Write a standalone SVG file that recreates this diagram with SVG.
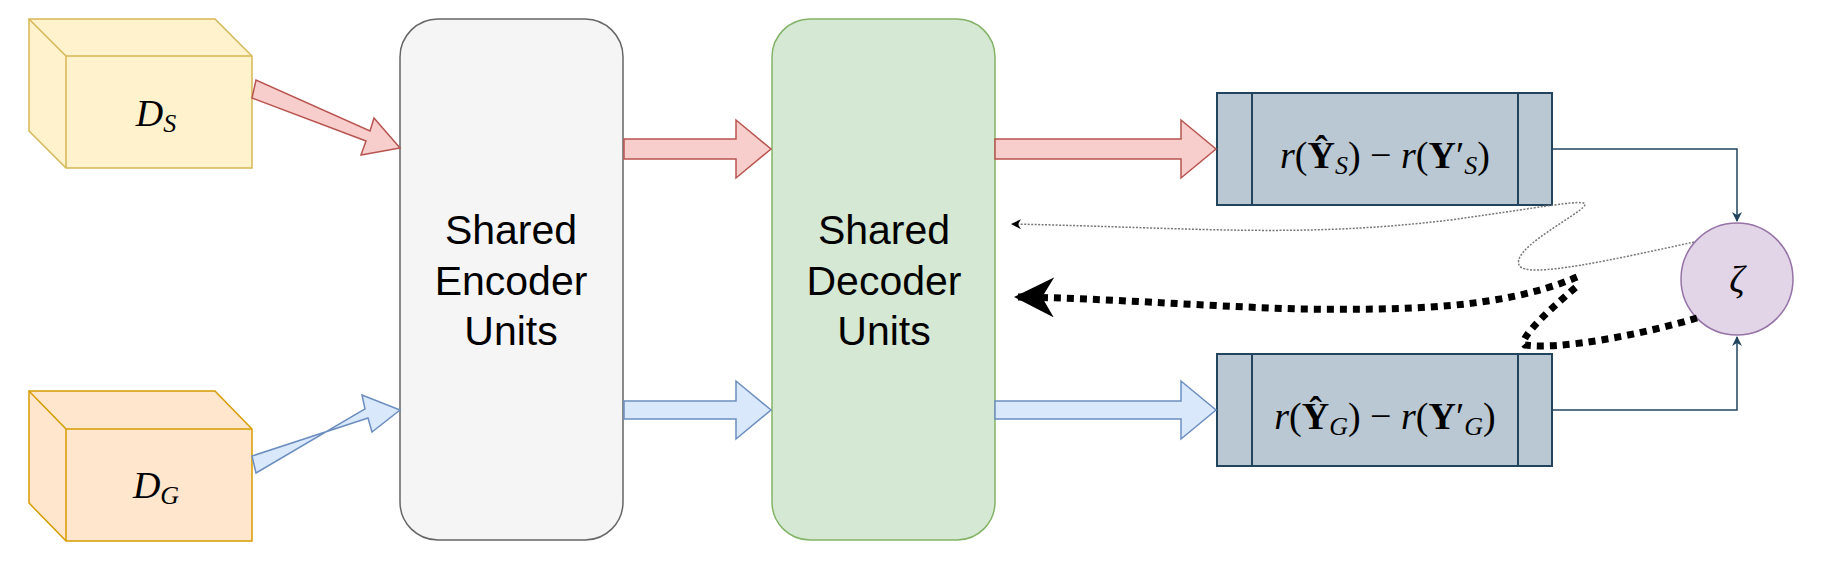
<svg xmlns="http://www.w3.org/2000/svg" width="1822" height="582" viewBox="0 0 1822 582">
<defs>
<style>
.lbl{font-family:"Liberation Sans",Arial,sans-serif;font-size:41px;fill:#000;text-anchor:middle}
.math{font-family:"Liberation Serif","Times New Roman",serif;font-size:38px;fill:#000;text-anchor:middle}
.red{fill:#f8cecc;stroke:#b85450;stroke-width:1.5}
.blue{fill:#dae8fc;stroke:#6c8ebf;stroke-width:1.5}
.box{fill:#bac8d3;stroke:#23445d;stroke-width:2}
</style>
<marker id="ah" viewBox="0 0 10 10" refX="9" refY="5" markerWidth="10" markerHeight="10" markerUnits="userSpaceOnUse" orient="auto"><path d="M0,0 L10,5 L0,10 L3,5 Z" fill="#23445d"/></marker>
<marker id="ahg" viewBox="0 0 10 10" refX="9" refY="5" markerWidth="10" markerHeight="10" markerUnits="userSpaceOnUse" orient="auto"><path d="M0,0 L10,5 L0,10 L3,5 Z" fill="#000"/></marker>
<marker id="ahb" viewBox="0 0 10 10" refX="9" refY="5" markerWidth="40" markerHeight="40" markerUnits="userSpaceOnUse" orient="auto"><path d="M0,0 L10,5 L0,10 L3,5 Z" fill="#000"/></marker>
</defs>
<g id="DS">
<path d="M29,19 L215,19 L252,56 L252,168 L66,168 L29,131 Z" fill="#fff2cc" stroke="#d6b656" stroke-width="1.5"/>
<path d="M29,19 L66,56 L252,56 M66,56 L66,168" fill="none" stroke="#d6b656" stroke-width="1.5"/>
<text x="156" y="126" class="math" font-style="italic">D<tspan font-size="26" dy="6">S</tspan></text>
</g>
<g id="DG">
<path d="M29,391 L215,391 L252,429 L252,541 L66,541 L29,503 Z" fill="#ffe6cc" stroke="#d79b00" stroke-width="1.5"/>
<path d="M29,391 L66,429 L252,429 M66,429 L66,541" fill="none" stroke="#d79b00" stroke-width="1.5"/>
<text x="156" y="498" class="math" font-style="italic">D<tspan font-size="26" dy="6">G</tspan></text>
</g>
<g id="encoder">
<rect x="400" y="19" width="223" height="521" rx="38" fill="#f5f5f5" stroke="#666" stroke-width="1.5"/>
<text class="lbl" x="511" y="244">Shared</text><text class="lbl" x="511" y="295">Encoder</text><text class="lbl" x="511" y="345">Units</text>
</g>
<g id="decoder">
<rect x="772" y="19" width="223" height="521" rx="38" fill="#d5e8d4" stroke="#82b366" stroke-width="1.5"/>
<text class="lbl" x="884" y="244">Shared</text><text class="lbl" x="884" y="295">Decoder</text><text class="lbl" x="884" y="345">Units</text>
</g>
<g id="boxS">
<rect x="1217" y="93" width="335" height="112" class="box"/>
<path d="M1252,93 V205 M1518,93 V205" stroke="#23445d" stroke-width="2"/>
<text x="1385" y="168" class="math"><tspan font-style="italic">r</tspan>(<tspan font-weight="bold">Ŷ</tspan><tspan font-style="italic" font-size="26" dy="6">S</tspan><tspan dy="-6">) − </tspan><tspan font-style="italic">r</tspan>(<tspan font-weight="bold">Y</tspan>′<tspan font-style="italic" font-size="26" dy="6">S</tspan><tspan dy="-6">)</tspan></text>
</g>
<g id="boxG">
<rect x="1217" y="354" width="335" height="112" class="box"/>
<path d="M1252,354 V466 M1518,354 V466" stroke="#23445d" stroke-width="2"/>
<text x="1385" y="429" class="math"><tspan font-style="italic">r</tspan>(<tspan font-weight="bold">Ŷ</tspan><tspan font-style="italic" font-size="26" dy="6">G</tspan><tspan dy="-6">) − </tspan><tspan font-style="italic">r</tspan>(<tspan font-weight="bold">Y</tspan>′<tspan font-style="italic" font-size="26" dy="6">G</tspan><tspan dy="-6">)</tspan></text>
</g>
<g id="zeta">
<ellipse cx="1737" cy="279" rx="56" ry="56" fill="#e1d5e7" stroke="#9673a6" stroke-width="1.5"/>
<text x="1737" y="292" class="math" font-style="italic">ζ</text>
</g>
<g id="connectors">
<path class="red" d="M252,98 L366,141 L361,155 L400,148 L374,118 L370,131 L256,80 Z"/>
<path class="red" d="M624,139 L736,139 L736,120 L771,149 L736,178 L736,159 L624,159 Z"/>
<path class="red" d="M995,139 L1181,139 L1181,120 L1216,149 L1181,178 L1181,159 L995,159 Z"/>
<path class="blue" d="M624,401 L736,401 L736,381 L771,410 L736,439 L736,419 L624,419 Z"/>
<path class="blue" d="M995,401 L1181,401 L1181,381 L1216,410 L1181,439 L1181,419 L995,419 Z"/>
<path class="blue" d="M252,456 L368,418 L372,432 L400,410 L362,395 L365,409 L256,473 Z"/>
<path d="M1552,149 H1737 V221" fill="none" stroke="#23445d" stroke-width="1.5" marker-end="url(#ah)"/>
<path d="M1552,410 H1737 V337" fill="none" stroke="#23445d" stroke-width="1.5" marker-end="url(#ah)"/>
<path d="M1694,242 C1620,258 1525,280 1519,265 C1513,250 1560,225 1580,210 C1600,195 1560,205 1450,220 C1300,238 1200,228 1012,224" fill="none" stroke="#777" stroke-width="1.5" stroke-dasharray="2 1.5" marker-end="url(#ahg)"/>
<path d="M1697,318 C1640,335 1560,350 1525,345 C1515,340 1560,300 1580,284" fill="none" stroke="#000" stroke-width="7" stroke-dasharray="7 6"/>
<path d="M1577,277 C1500,310 1400,310 1300,309 C1200,306 1100,298 1018,297" fill="none" stroke="#000" stroke-width="7" stroke-dasharray="7 6" marker-end="url(#ahb)"/>
</g>
</svg>
